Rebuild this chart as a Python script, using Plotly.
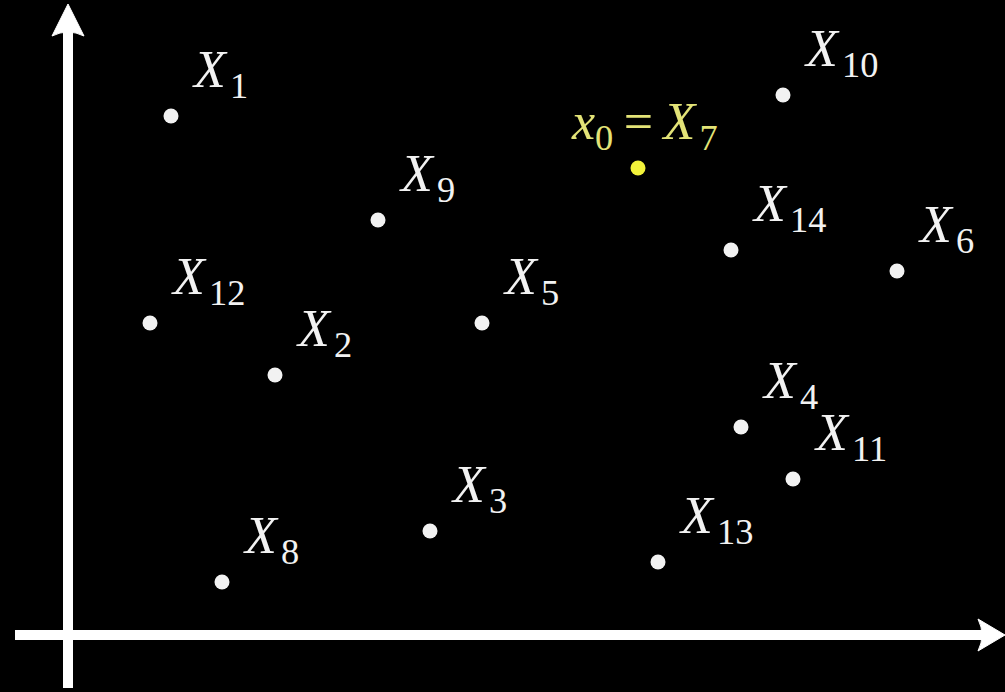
import plotly.graph_objects as go

# ---- data (points in axis units; origin at the axes crossing) ----
point_ids = [1, 2, 3, 4, 5, 6, 7, 8, 9, 10, 11, 12, 13, 14]
x_vals = [1.03, 2.07, 3.62, 6.73, 4.14, 8.29, 5.70, 1.54, 3.10, 7.15, 7.25, 0.82, 5.90, 6.63]
y_vals = [5.19, 2.60, 1.04, 2.08, 3.12, 3.64, 4.67, 0.53, 4.15, 5.40, 1.56, 3.12, 0.73, 3.85]
highlight_id = 7
x_range = [-0.68, 9.37]
y_range = [-0.57, 6.35]

WHITE = "#f2f2f2"
YELLOW = "#f2f23a"
YELLOW_TEXT = "#e3e377"
FONT = "Liberation Serif"
HAIR = "&#8202;"
THIN = "&#8201;"

fig = go.Figure()

normal = [i for i, p in enumerate(point_ids) if p != highlight_id]
hi = [i for i, p in enumerate(point_ids) if p == highlight_id]

fig.add_trace(go.Scatter(
    x=[x_vals[i] for i in normal], y=[y_vals[i] for i in normal],
    mode="markers", marker=dict(size=15, color=WHITE, line=dict(width=0)),
    hoverinfo="skip", showlegend=False))
fig.add_trace(go.Scatter(
    x=[x_vals[i] for i in hi], y=[y_vals[i] for i in hi],
    mode="markers", marker=dict(size=15, color=YELLOW, line=dict(width=0)),
    hoverinfo="skip", showlegend=False))

annotations = []
for i, pid in enumerate(point_ids):
    if pid == highlight_id:
        annotations.append(dict(
            x=x_vals[i], y=y_vals[i], xref="x", yref="y",
            text=f"<i>x</i><sub>0</sub>{THIN}={THIN}<i>X</i>{HAIR}<sub>{pid}</sub>",
            showarrow=False, xanchor="center", yanchor="bottom",
            xshift=6, yshift=8,
            font=dict(family=FONT, size=52, color=YELLOW_TEXT)))
    else:
        annotations.append(dict(
            x=x_vals[i], y=y_vals[i], xref="x", yref="y",
            text=f"<i>X</i>{HAIR}<sub>{pid}</sub>",
            showarrow=False, xanchor="left", yanchor="bottom",
            xshift=19, yshift=8,
            font=dict(family=FONT, size=52, color=WHITE)))

shapes = [
    # vertical axis
    dict(type="line", xref="x", yref="y", x0=0, x1=0, y0=-0.53, y1=6.08,
         line=dict(color="white", width=10)),
    dict(type="path", xref="x", yref="y",
         path="M 0 6.31 L 0.16 5.99 Q 0 6.07 -0.16 5.99 Z",
         fillcolor="white", line=dict(color="white", width=1)),
    # horizontal axis
    dict(type="line", xref="x", yref="y", x0=-0.53, x1=9.17, y0=0, y1=0,
         line=dict(color="white", width=10)),
    dict(type="path", xref="x", yref="y",
         path="M 9.37 0 L 9.10 0.16 Q 9.18 0 9.10 -0.16 Z",
         fillcolor="white", line=dict(color="white", width=1)),
]

fig.update_layout(
    width=1005, height=692,
    margin=dict(l=0, r=0, t=0, b=0),
    paper_bgcolor="black", plot_bgcolor="black",
    xaxis=dict(range=x_range, visible=False, fixedrange=True),
    yaxis=dict(range=y_range, visible=False, fixedrange=True),
    annotations=annotations, shapes=shapes,
    showlegend=False,
)

fig.write_html("out.html", config={"displayModeBar": False},
               post_script="document.body.style.margin='0';document.body.style.background='black';")
